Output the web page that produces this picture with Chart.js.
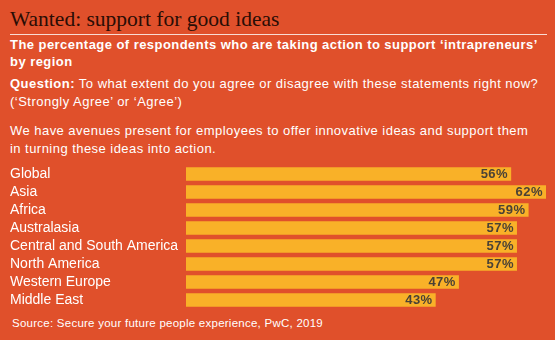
<!DOCTYPE html>
<html>
<head>
<meta charset="utf-8">
<script src="https://cdn.jsdelivr.net/npm/chart.js"></script>
<style>
    html, body { margin: 0; padding: 0; }
    body {
        width: 555px;
        height: 340px;
        background: #e0502b;
        position: relative;
        overflow: hidden;
        font-family: "Liberation Sans", Arial, sans-serif;
        color: #ffffff;
    }
    .txt { position: absolute; left: 10px; white-space: nowrap; }
    #title { top: 9px; font-family: "Liberation Serif", serif; font-size: 21.5px; line-height: 21px; color: #2a0d05; }
    #rule { position: absolute; left: 10px; top: 34px; width: 537px; height: 1px; background: rgba(255,255,255,0.8); }
    #subtitle { top: 37px; font-size: 13px; line-height: 16.5px; font-weight: bold; letter-spacing: 0.45px; }
    #question { top: 75px; font-size: 13px; line-height: 17.5px; letter-spacing: 0.48px; }
    #statement { top: 122px; font-size: 13px; line-height: 18px; letter-spacing: 0.46px; }
    #source { top: 317px; left: 12px; font-size: 11.5px; line-height: 13px; letter-spacing: 0.25px; }
    #chart-wrap { position: absolute; left: 0; top: 0; width: 555px; height: 340px; }
</style>
</head>
<body>
<div id="title" class="txt">Wanted: support for good ideas</div>
<div id="rule"></div>
<div id="subtitle" class="txt">The percentage of respondents who are taking action to support ‘intrapreneurs’<br>by region</div>
<div id="question" class="txt"><b>Question:</b> To what extent do you agree or disagree with these statements right now?<br>(‘Strongly Agree’ or ‘Agree’)</div>
<div id="statement" class="txt">We have avenues present for employees to offer innovative ideas and support them<br>in turning these ideas into action.</div>
<div id="source" class="txt">Source: Secure your future people experience, PwC, 2019</div>
<div id="chart-wrap"><canvas id="chart" width="555" height="340"></canvas></div>
<script>
const regions = ['Global', 'Asia', 'Africa', 'Australasia', 'Central and South America', 'North America', 'Western Europe', 'Middle East'];
const agreePct = [56, 62, 59, 57, 57, 57, 47, 43];

const barColor = '#f9b128';
const valueColor = '#4a4236';

// writes the % value just inside the end of each bar
const valueLabels = {
    id: 'valueLabels',
    afterDatasetsDraw(chart) {
        const ctx = chart.ctx;
        const meta = chart.getDatasetMeta(0);
        ctx.save();
        ctx.font = 'bold 13px "Liberation Sans", Arial, sans-serif';
        ctx.letterSpacing = '0.5px';
        ctx.fillStyle = valueColor;
        ctx.textAlign = 'right';
        ctx.textBaseline = 'middle';
        meta.data.forEach((bar, i) => {
            ctx.fillText(agreePct[i] + '%', bar.x - 3, bar.y + 0.5);
        });
        ctx.restore();
    }
};

new Chart(document.getElementById('chart'), {
    type: 'bar',
    data: {
        labels: regions,
        datasets: [{
            data: agreePct,
            backgroundColor: barColor,
            borderWidth: 0,
            barPercentage: 0.75,
            categoryPercentage: 1
        }]
    },
    options: {
        indexAxis: 'y',
        responsive: false,
        animation: false,
        layout: { padding: { left: 10, right: 9, top: 165, bottom: 31 } },
        plugins: {
            legend: { display: false },
            tooltip: { enabled: false }
        },
        scales: {
            x: {
                display: false,
                min: 0,
                max: 62
            },
            y: {
                grid: { display: false },
                border: { display: false },
                afterFit(scale) { scale.width = 176; },
                ticks: {
                    autoSkip: false,
                    crossAlign: 'far',
                    padding: 0,
                    color: '#ffffff',
                    font: { family: '"Liberation Sans", Arial, sans-serif', size: 14 }
                }
            }
        }
    },
    plugins: [valueLabels]
});
</script>
</body>
</html>
